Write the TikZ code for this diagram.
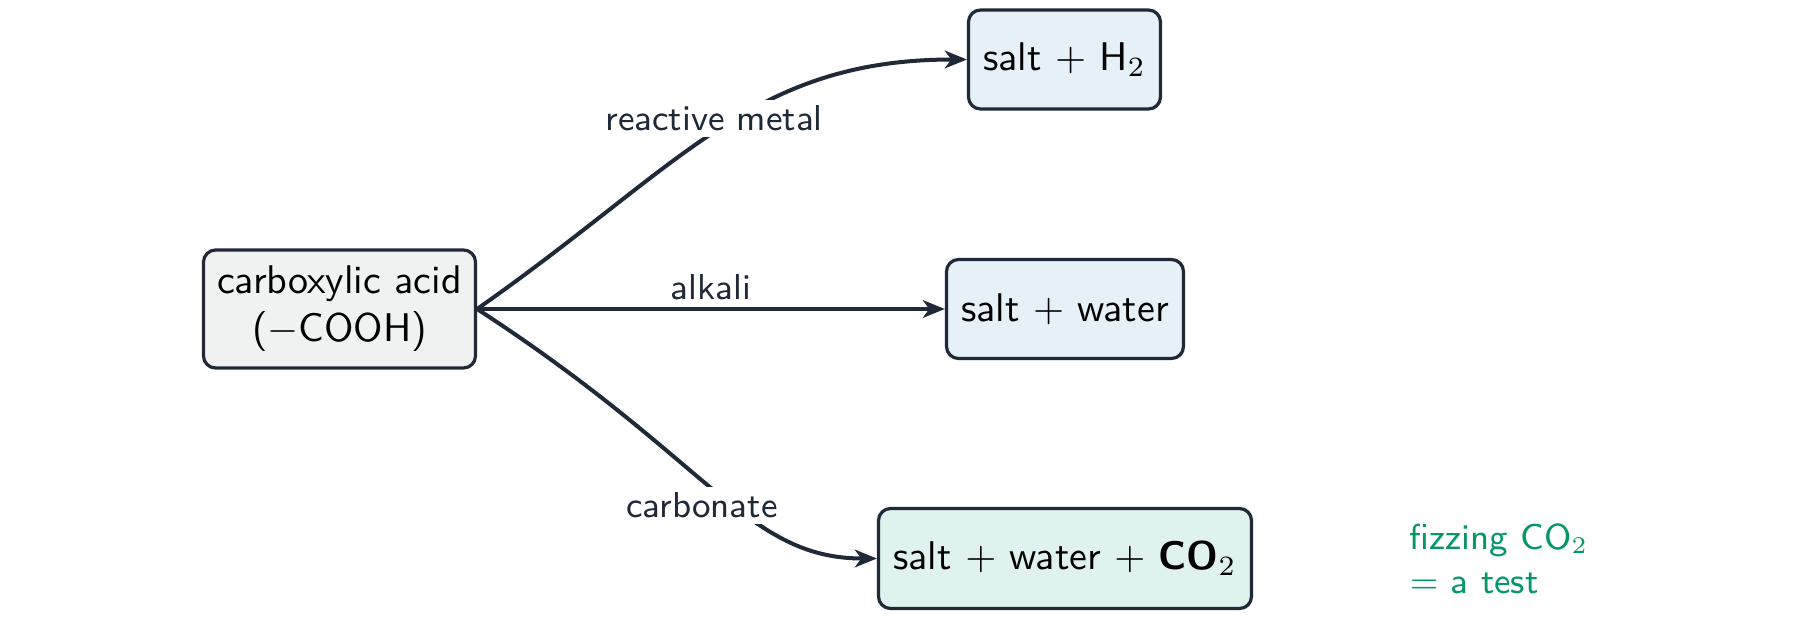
\documentclass[tikz,border=0pt]{standalone}
\usetikzlibrary{arrows.meta}
\definecolor{ink}{HTML}{1F2937}
\definecolor{acidfill}{HTML}{F0F2F2}
\definecolor{bluefill}{HTML}{E5F0F7}
\definecolor{tealfill}{HTML}{DFF2EE}
\definecolor{testgreen}{HTML}{059669}
\begin{document}
\begin{tikzpicture}[x=0.25pt,y=-0.25pt, font=\sffamily,
  box/.style={draw=ink, line width=0.8pt, rounded corners=3pt, inner xsep=2pt, inner ysep=2pt, text=black, align=center},
  conn/.style={draw=ink, line width=1pt, -{Stealth[length=5.5pt,width=4.4pt,inset=1.6pt]}},
  lbl/.style={fill=white, text=ink, font=\sffamily\small, inner sep=1.5pt}]
\useasboundingbox (0,0) rectangle (1800,621);

\node[box, fill=acidfill, minimum width=68pt, minimum height=29.5pt] (acid) at (339.5,309) {carboxylic acid\\($-$COOH)};
\node[box, fill=bluefill, minimum width=48pt, minimum height=24.75pt] (h2) at (1064.5,59.5) {salt $+$ H$_2$};
\node[box, fill=bluefill, minimum width=59.25pt, minimum height=24.75pt] (water) at (1065,309) {salt $+$ water};
\node[box, fill=tealfill, minimum width=93.25pt, minimum height=25pt] (co2) at (1065,558.5) {salt $+$ water $+$ \textbf{CO}$_2$};

\draw[conn] (acid.east) .. controls +(35:62.5pt) and +(180:53.75pt) .. (h2.west)
  node[lbl, pos=0.5, xshift=-1pt, yshift=3pt] (lmetal) {reactive metal};
\draw[conn] (acid.east) -- node[lbl, above=0.4pt] (lalk) {alkali} (water.west);
\draw[conn] (acid.east) .. controls +(-33:70pt) and +(180:32.5pt) .. (co2.west)
  node[lbl, pos=0.5, xshift=-3.6pt, yshift=-3.6pt] (lcarb) {carbonate};

\node[text=testgreen, font=\sffamily\small, align=left, anchor=north west, inner sep=0pt] (fizz) at (1409,523) {fizzing CO$_2$\\$=$ a test};
\end{tikzpicture}
\end{document}
